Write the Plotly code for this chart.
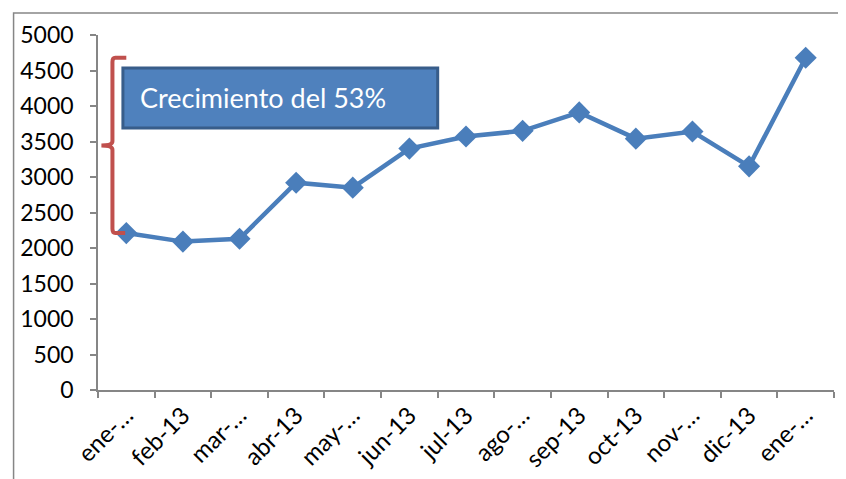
import plotly.graph_objects as go

months = ["ene-13", "feb-13", "mar-13", "abr-13", "may-13", "jun-13", "jul-13",
          "ago-13", "sep-13", "oct-13", "nov-13", "dic-13", "ene-14"]
tick_labels = ["ene-…", "feb-13", "mar-…", "abr-13", "may-…", "jun-13", "jul-13",
               "ago-…", "sep-13", "oct-13", "nov-…", "dic-13", "ene-…"]
values = [2210, 2090, 2130, 2920, 2850, 3400, 3570, 3650, 3910, 3540, 3640, 3150, 4680]
y_ticks = [0, 500, 1000, 1500, 2000, 2500, 3000, 3500, 4000, 4500, 5000]
annotation_text = "Crecimiento del 53%"

FONT = "Lato"
xs = list(range(len(months)))
AXIS = "#868686"

fig = go.Figure()
fig.add_trace(go.Scatter(
    x=xs, y=values, mode="lines+markers",
    line=dict(color="#4A7EBB", width=4.5),
    marker=dict(symbol="diamond", size=17, color="#4A7EBB"),
    hovertext=months, showlegend=False,
))

# brace from first to last value
y_lo, y_hi = values[0], values[-1]
y_mid = (y_lo + y_hi) / 2
xv, xt, xe = -0.245, -0.44, 0.0
r = 60
path = (f"M {xe},{y_hi} L {xv+0.05},{y_hi} Q {xv},{y_hi} {xv},{y_hi-r} "
        f"L {xv},{y_mid+r} Q {xv},{y_mid} {xt},{y_mid} "
        f"Q {xv},{y_mid} {xv},{y_mid-r} L {xv},{y_lo+r} "
        f"Q {xv},{y_lo} {xv+0.05},{y_lo} L {xe-0.02},{y_lo}")
fig.add_shape(type="path", path=path, xref="x", yref="y",
              line=dict(color="#C0504D", width=4))

# callout box
fig.add_shape(type="rect", xref="x", yref="y", x0=-0.06, x1=5.5, y0=3690, y1=4535,
              fillcolor="#4F81BD", line=dict(color="#385D8A", width=3))
fig.add_annotation(x=0.2, y=4113, xref="x", yref="y", text=annotation_text,
                   showarrow=False, xanchor="left", yanchor="middle",
                   font=dict(family=FONT, size=27, color="white"))

# outer chart border
fig.add_shape(type="rect", xref="paper", yref="paper",
              x0=(8 - 93) / 741, x1=1.2, y0=-0.4, y1=(390 - 13) / 355,
              line=dict(color=AXIS, width=1.5), fillcolor="rgba(0,0,0,0)", layer="below")

fig.update_layout(
    width=846, height=479,
    margin=dict(l=85, r=20, t=27, b=97),
    paper_bgcolor="white", plot_bgcolor="white",
    font=dict(family=FONT, size=22, color="black"),
    xaxis=dict(
        range=[-0.5, 12.5], tickmode="array", tickvals=xs, ticktext=tick_labels,
        tickangle=-45, ticks="", showgrid=False, zeroline=False,
        showline=True, linecolor=AXIS, linewidth=1.5,
        tickfont=dict(family=FONT, size=24),
        minor=dict(tickmode="array", tickvals=[i - 0.5 for i in range(len(months) + 1)],
                   ticks="outside", ticklen=6, tickcolor=AXIS, tickwidth=1.5, showgrid=False),
    ),
    yaxis=dict(
        range=[0, 5000], tickmode="array", tickvals=y_ticks,
        ticks="outside", ticklen=6, tickcolor=AXIS, tickwidth=1.5,
        showgrid=False, zeroline=False, showline=True, linecolor=AXIS, linewidth=1.5,
        tickfont=dict(family=FONT, size=23), ticklabelstandoff=12,
    ),
)

fig.write_html("out.html")
